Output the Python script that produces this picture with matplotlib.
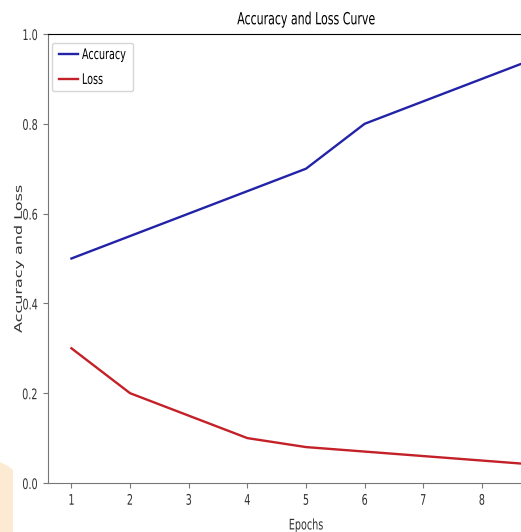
import matplotlib
matplotlib.use("Agg")
import matplotlib.pyplot as plt
from matplotlib.patches import Polygon
from matplotlib.patheffects import AbstractPathEffect
from matplotlib.transforms import Affine2D

# dados
epochs = [1, 2, 3, 4, 5, 6, 7, 8, 9]
accuracy = [0.50, 0.55, 0.60, 0.65, 0.70, 0.80, 0.85, 0.90, 0.95]
loss = [0.30, 0.20, 0.15, 0.10, 0.08, 0.07, 0.06, 0.05, 0.04]

SQ = 0.66  # o original foi achatado na horizontal


class Squash(AbstractPathEffect):
    """Escala o desenho do texto em torno de um ponto de ancora."""

    def __init__(self, sx=1.0, sy=1.0, anchor="center"):
        super().__init__()
        self.sx, self.sy, self.anchor = sx, sy, anchor

    def draw_path(self, renderer, gc, tpath, affine, rgbFace=None):
        e = tpath.get_extents()
        cx = {"left": 0.0, "center": (e.x0 + e.x1) / 2, "right": e.x1}[self.anchor]
        cy = (e.y0 + e.y1) / 2
        t = (Affine2D().translate(-cx, -cy).scale(self.sx, self.sy)
             .translate(cx, cy) + affine)
        renderer.draw_path(gc, tpath, t, rgbFace)


fig = plt.figure(figsize=(5.21, 5.32), dpi=100)
# eixo mais largo que a figura: a borda direita fica cortada como no original
ax = fig.add_axes([0.0921, 0.0921, 0.9904, 0.844])

ax.plot(epochs, accuracy, color="#2323a8", linewidth=1.7, label="Accuracy")
ax.plot(epochs, loss, color="#c42028", linewidth=1.7, label="Loss")

ax.set_ylim(0.0, 1.0)
ax.set_xticks(epochs)
ax.tick_params(labelsize=10.5, colors="#777777", labelcolor="#333333")
for lb in ax.get_xticklabels():
    lb.set_path_effects([Squash(sx=SQ, anchor="center")])
for lb in ax.get_yticklabels():
    lb.set_path_effects([Squash(sx=SQ, anchor="right")])

for side in ("left", "bottom"):
    ax.spines[side].set_color("#777777")
ax.spines["top"].set_color("black")

ax.set_title("Accuracy and Loss Curve", fontsize=12, pad=7,
             path_effects=[Squash(sx=SQ)])
ax.set_xlabel("Epochs", fontsize=10.5, color="#333333", labelpad=7,
              path_effects=[Squash(sx=SQ)])
ax.set_ylabel("Accuracy and Loss", fontsize=11.5, color="#333333",
              path_effects=[Squash(sy=SQ)])
ax.yaxis.set_label_coords(-0.042, 0.5)

# legenda: fonte menor esticada na vertical, para a caixa ficar estreita
leg = ax.legend(loc="upper left", bbox_to_anchor=(0.008, 0.98),
                borderaxespad=0, fontsize=10.5 * SQ, handlelength=1.95,
                handletextpad=0.45, borderpad=0.7, labelspacing=1.5)
for t in leg.get_texts():
    t.set_path_effects([Squash(sy=1 / SQ, anchor="left")])

# mancha cor de pessego no canto inferior esquerdo
fig.patches.append(Polygon(
    [(0, 0), (13 / 521, 0), (13 / 521, 62 / 532), (8 / 521, 66 / 532),
     (0, 70 / 532)],
    closed=True, transform=fig.transFigure, facecolor="#fdead3",
    edgecolor="none", zorder=-1))

fig.savefig("out.png", dpi=100)
